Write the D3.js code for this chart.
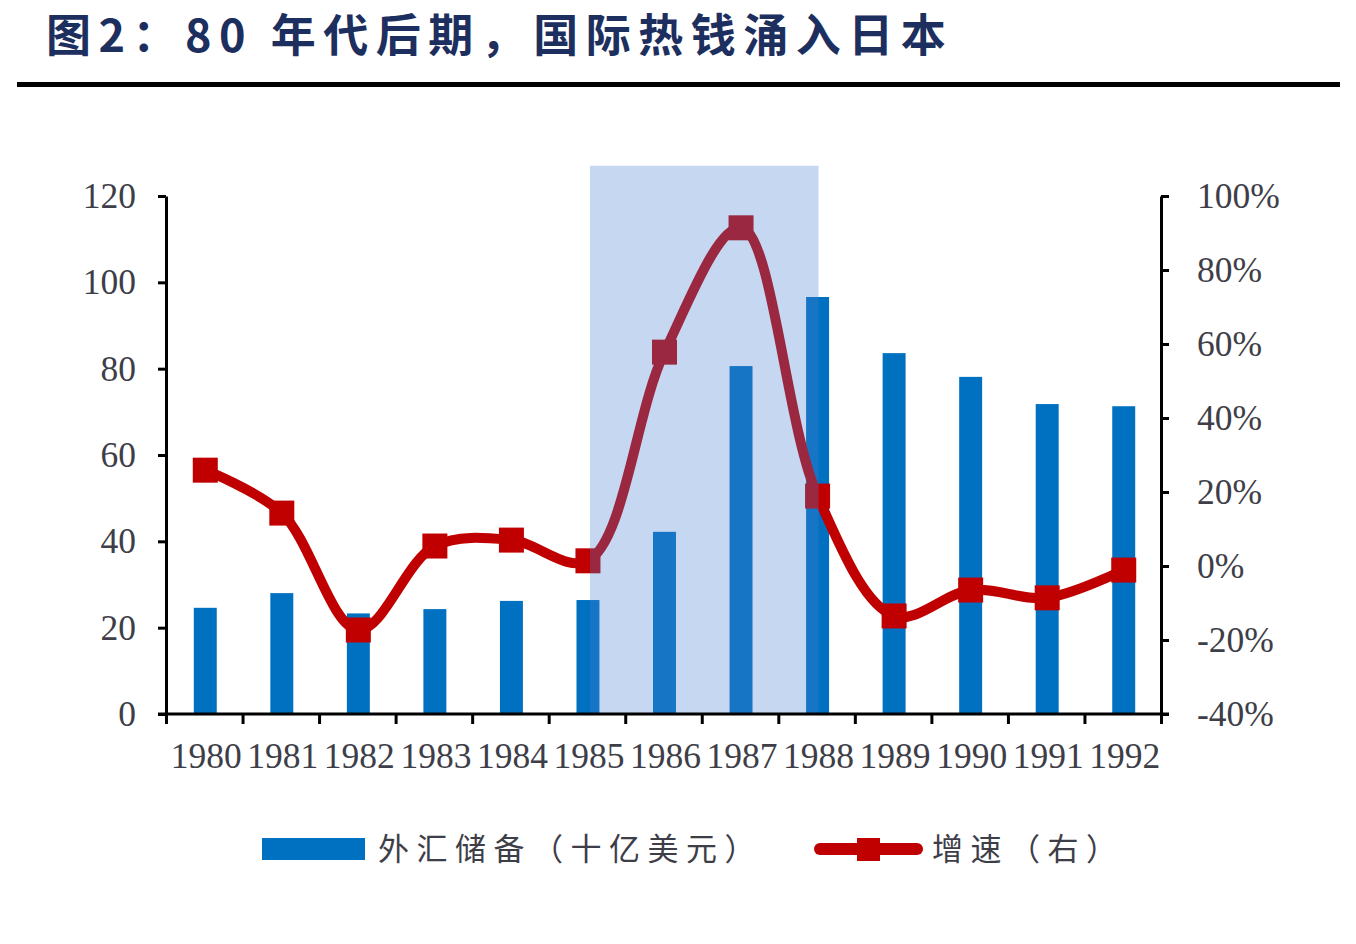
<!DOCTYPE html>
<html><head><meta charset="utf-8">
<script src="https://cdn.jsdelivr.net/npm/d3@7"></script>
<style>body{margin:0;background:#fff}svg{display:block}</style>
</head><body>
<script>
const years = ["1980","1981","1982","1983","1984","1985","1986","1987","1988","1989","1990","1991","1992"];
const reserves = [24.6, 28.0, 23.3, 24.3, 26.2, 26.4, 42.2, 80.6, 96.6, 83.6, 78.1, 71.8, 71.3];
const growth = [25.9, 14.3, -17.3, 5.4, 7.0, 1.4, 57.8, 91.4, 18.9, -13.5, -6.5, -8.6, -1.1];
const leftTicks = [0, 20, 40, 60, 80, 100, 120];
const rightTicks = [-40, -20, 0, 20, 40, 60, 80, 100];
const shadeFrom = "1985", shadeTo = "1988";
const title = "图2：80 年代后期，国际热钱涌入日本";
const legendBar = "外汇储备（十亿美元）";
const legendLine = "增速（右）";

const W = 1356, H = 944;
const svg = d3.select("body").append("svg").attr("width", W).attr("height", H);

// title
svg.append("text").attr("x", 46).attr("y", 52)
  .attr("font-family", "'Noto Sans CJK SC'").attr("font-weight", 700)
  .attr("font-size", 45).attr("letter-spacing", 7.5).attr("fill", "#1d2f5e").text(title);
svg.append("rect").attr("x", 17).attr("y", 82).attr("width", 1323).attr("height", 5).attr("fill", "#000");

const x0 = 166, x1 = 1161, yTop = 196, yBot = 714;
const xB = d3.scaleBand().domain(years).range([x0, x1]).padding(0);
const xEdge = d3.scaleLinear().domain([0, years.length]).range([x0, x1]);
const yL = d3.scaleLinear().domain([0, 120]).range([yBot, yTop]);
const yR = d3.scaleLinear().domain([-40, 100]).range([yBot, yTop]);
const bw = xB.bandwidth() * 0.3;

// bars
svg.append("g").selectAll("rect").data(years).join("rect")
  .attr("x", (d) => xB(d) + xB.bandwidth() / 2 - bw / 2 + 1)
  .attr("width", bw)
  .attr("y", (d, i) => yL(reserves[i]))
  .attr("height", (d, i) => yBot - yL(reserves[i]))
  .attr("fill", "#0070c0");

// line
const cx = (d) => xB(d) + xB.bandwidth() / 2 + 1;
const line = d3.line().x((d, i) => cx(years[i])).y((d) => yR(d)).curve(d3.curveCatmullRom.alpha(0.5));
svg.append("path").datum(growth).attr("d", line).attr("fill", "none")
  .attr("stroke", "#c00000").attr("stroke-width", 10).attr("stroke-linejoin", "round");
const ms = 25;
svg.append("g").selectAll("rect").data(growth).join("rect")
  .attr("x", (d, i) => cx(years[i]) - ms / 2).attr("y", (d) => yR(d) - ms / 2)
  .attr("width", ms).attr("height", ms).attr("fill", "#c00000");

// shade overlay
const sx0 = xB(shadeFrom) + xB.bandwidth() / 2 + 3, sx1 = xB(shadeTo) + xB.bandwidth() / 2 + 2;
svg.append("rect").attr("x", sx0).attr("width", sx1 - sx0)
  .attr("y", yL(127)).attr("height", yBot - yL(127))
  .attr("fill", "rgb(71,129,209)").attr("opacity", 0.31);

const tickFont = "'Liberation Serif', 'Times New Roman', serif";
const labCol = "#3e3e48";
function styleAxis(g) {
  g.selectAll(".domain").attr("stroke", "#000").attr("stroke-width", 3);
  g.selectAll(".tick line").attr("stroke", "#000").attr("stroke-width", 3);
  g.selectAll(".tick text").attr("font-family", tickFont).attr("font-size", 35.5).attr("fill", labCol);
}
// left axis
const gl = svg.append("g").attr("transform", `translate(${x0},0)`)
  .call(d3.axisLeft(yL).tickValues(leftTicks).tickSize(8).tickSizeOuter(0).tickPadding(22));
styleAxis(gl);
// right axis
const gr = svg.append("g").attr("transform", `translate(${x1},0)`)
  .call(d3.axisRight(yR).tickValues(rightTicks).tickSize(8).tickSizeOuter(0).tickPadding(28)
    .tickFormat((d) => d + "%"));
styleAxis(gr);
// bottom axis (edges)
const gb = svg.append("g").attr("transform", `translate(0,${yBot})`)
  .call(d3.axisBottom(xEdge).tickValues(d3.range(years.length + 1)).tickSize(10).tickSizeOuter(0).tickFormat(""));
styleAxis(gb);
gb.select(".domain").attr("d", `M${x0 - 8},0H${x1 + 8}`);
// year labels
const gy = svg.append("g").attr("transform", `translate(2,${yBot})`)
  .call(d3.axisBottom(xB).tickSize(0).tickPadding(29));
gy.select(".domain").remove();
styleAxis(gy);

// legend
const lf = "'Noto Sans CJK SC'";
svg.append("rect").attr("x", 262).attr("y", 838).attr("width", 103).attr("height", 22).attr("fill", "#0070c0");
svg.append("text").attr("x", 378).attr("y", 860).attr("font-family", lf).attr("font-size", 31)
  .attr("letter-spacing", 7.5).attr("fill", labCol).text(legendBar);
svg.append("line").attr("x1", 820).attr("x2", 917).attr("y1", 849).attr("y2", 849)
  .attr("stroke", "#c00000").attr("stroke-width", 12).attr("stroke-linecap", "round");
svg.append("rect").attr("x", 857).attr("y", 838).attr("width", 23).attr("height", 23).attr("fill", "#c00000");
svg.append("text").attr("x", 932).attr("y", 860).attr("font-family", lf).attr("font-size", 31)
  .attr("letter-spacing", 7.5).attr("fill", labCol).text(legendLine);
</script>
</body></html>
